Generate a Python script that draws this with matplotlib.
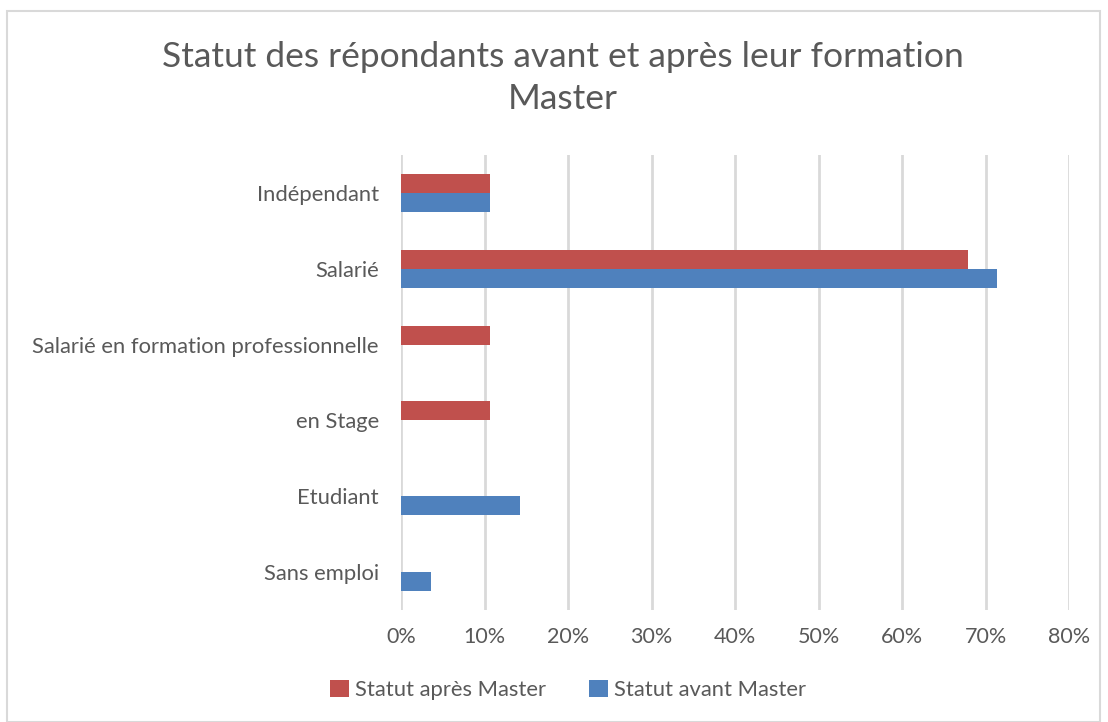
import matplotlib
matplotlib.use("Agg")
import matplotlib.pyplot as plt
from matplotlib.patches import Rectangle
import numpy as np

categories = ["Indépendant", "Salarié", "Salarié en formation professionnelle",
              "en Stage", "Etudiant", "Sans emploi"]
apres = [10.7, 67.9, 10.7, 10.7, 0, 0]
avant = [10.7, 71.4, 0, 0, 14.3, 3.6]
ticks = [0, 10, 20, 30, 40, 50, 60, 70, 80]

plt.rcParams["font.family"] = ["Lato", "DejaVu Sans"]
text_col = "#595959"

fig = plt.figure(figsize=(11.08, 7.22), dpi=100)
ax = fig.add_axes([401 / 1108, 1 - 610 / 722, (1069 - 401) / 1108, (610 - 155) / 722])

y = np.arange(len(categories))
h = 0.25
ax.barh(y - h / 2, apres, height=h, color="#C0504D", label="Statut après Master", zorder=3)
ax.barh(y + h / 2, avant, height=h, color="#4F81BD", label="Statut avant Master", zorder=3)

ax.set_ylim(len(categories) - 0.5, -0.5)
ax.set_yticks(y)
ax.set_yticklabels(categories, fontsize=15.8, color=text_col)
ax.set_xlim(0, 80)
ax.set_xticks(ticks)
ax.set_xticklabels([f"{t}%" for t in ticks], fontsize=15.5, color=text_col)
ax.tick_params(length=0)
ax.tick_params(axis="y", pad=16)
ax.tick_params(axis="x", pad=12)
ax.grid(axis="x", color="#d9d9d9", linewidth=2, zorder=0)
for s in ax.spines.values():
    s.set_visible(False)

fig.text(563 / 1108, 1 - 78 / 722, "Statut des répondants avant et après leur formation\nMaster",
         ha="center", va="center", fontsize=25.5, color=text_col, linespacing=1.4)

fig.legend(loc="center", bbox_to_anchor=(568 / 1108, 1 - 690 / 722), ncol=2, frameon=False,
           fontsize=15.8, labelcolor=text_col, handlelength=0.85, handleheight=0.85,
           columnspacing=2.0, handletextpad=0.25)

fig.patches.append(Rectangle((7 / 1108, 0.0), 1093 / 1108, 1 - 11 / 722, transform=fig.transFigure,
                             fill=False, edgecolor="#d9d9d9", linewidth=1.5))

fig.savefig("out.png", dpi=100)
